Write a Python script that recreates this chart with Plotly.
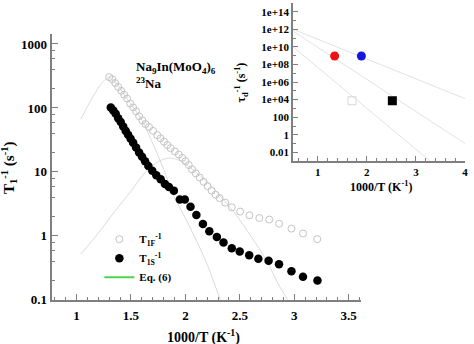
import plotly.graph_objects as go

# ---- Main panel: 23Na spin-lattice relaxation rates vs 1000/T ----
# T1F^-1 (fast component, open circles)
x_fast = [1.300, 1.328, 1.356, 1.383, 1.411, 1.438, 1.465, 1.493, 1.520, 1.547,
          1.575, 1.605, 1.634, 1.666, 1.703, 1.742, 1.771, 1.803, 1.835, 1.864,
          1.903, 1.940, 1.972, 2.001, 2.031, 2.061, 2.095, 2.131, 2.168, 2.204,
          2.241, 2.277, 2.314, 2.366, 2.426, 2.503, 2.588, 2.679, 2.770, 2.861,
          2.974, 3.080, 3.211]
y_fast = [303, 282, 245, 213, 185, 161, 140, 117, 102, 88.5,
          74.2, 63.8, 56, 50.4, 43.8, 37.6, 33.6, 29.7, 26.3, 23.5,
          20.9, 18.6, 16.6, 14.7, 12.8, 11.0, 9.5, 8.2, 7.0, 6.0,
          5.1, 4.4, 3.9, 3.3, 2.8, 2.4, 2.1, 1.9, 1.8, 1.55,
          1.3, 1.09, 0.89]

# T1S^-1 (slow component, filled circles)
x_slow = [1.315, 1.338, 1.360, 1.383, 1.406, 1.429, 1.452, 1.474, 1.497, 1.520,
          1.547, 1.575, 1.602, 1.630, 1.660, 1.696, 1.733, 1.773, 1.812, 1.849,
          1.894, 1.949, 1.995, 2.047, 2.101, 2.161, 2.220, 2.289, 2.350, 2.426,
          2.499, 2.586, 2.670, 2.764, 2.860, 2.974, 3.080, 3.213]
y_slow = [102, 91.6, 81, 69.2, 60.1, 51.3, 43.8, 38.0, 33.0, 28.7,
          24.1, 20.2, 17.3, 14.7, 12.4, 10.4, 8.9, 7.7, 6.5, 5.8,
          5.1, 3.7, 3.7, 2.85, 2.13, 1.53, 1.18, 0.96, 0.79, 0.64,
          0.57, 0.50, 0.44, 0.41, 0.36, 0.28, 0.23, 0.20]

# Eq. (6) curves, sampled
x_eqA = [1.04, 1.10, 1.16, 1.22, 1.27, 1.30, 1.34, 1.40, 1.45, 1.50, 1.60,
         1.70, 1.80, 1.90, 2.00, 2.10, 2.20, 2.32]
y_eqA = [67, 105, 160, 230, 285, 300, 275, 205, 150, 115, 65,
         28, 11, 4.0, 1.9, 0.85, 0.36, 0.10]
x_eqB = [1.04, 1.20, 1.35, 1.50, 1.64, 1.75, 1.85, 1.95, 2.05, 2.15, 2.30,
         2.45, 2.60, 2.75, 2.85, 2.94]
y_eqB = [0.52, 1.1, 2.4, 5.0, 10.3, 14.5, 16.5, 15.0, 11.5, 8.3, 4.6,
         2.3, 1.0, 0.40, 0.18, 0.10]

# ---- Inset: correlation rates tau_d^-1 ----
x_red, y_red = [1.345], [9.3e8]
x_blue, y_blue = [1.89], [9.3e8]
x_sq_black, y_sq_black = [2.52], [7.5e3]
x_sq_open, y_sq_open = [1.70], [7.5e3]
x_line1, y_line1 = [0.5, 4.0], [1.0e12, 1.3e4]
x_line2, y_line2 = [0.5, 4.0], [6.0e11, 0.1]
x_line3, y_line3 = [0.5, 3.29], [1.0e10, 1.0e-3]

main_ticks = [1, 1.5, 2, 2.5, 3, 3.5]
main_ticktext = ["1", "1.5", "2", "2.5", "3", "3.5"]
main_yticks = [0.1, 1, 10, 100, 1000]
main_yticktext = ["0.1", "1", "10", "100", "1000"]
inset_xticks = [1, 2, 3, 4]
inset_yticks = [1e-2, 1, 1e2, 1e4, 1e6, 1e8, 1e10, 1e12, 1e14]
inset_yticktext = ["0.01", "1", "100", "1e+04", "1e+06", "1e+08", "1e+10", "1e+12", "1e+14"]

SERIF = "Liberation Serif"
AXC = "#7f7f7f"
CURVE = "#dadada"
OPEN = "#c4c4c4"

fig = go.Figure()

for xs, ys in [(x_eqA, y_eqA), (x_eqB, y_eqB)]:
    fig.add_trace(go.Scatter(x=xs, y=ys, mode="lines", showlegend=False,
                             line=dict(color=CURVE, width=1, shape="spline", smoothing=0.8),
                             hoverinfo="skip"))

fig.add_trace(go.Scatter(x=x_fast, y=y_fast, mode="markers",
                         name="T<sub>1F</sub><sup>-1</sup>",
                         marker=dict(symbol="circle-open", size=7, color=OPEN,
                                     line=dict(width=1, color=OPEN))))
fig.add_trace(go.Scatter(x=x_slow, y=y_slow, mode="markers",
                         name="T<sub>1S</sub><sup>-1</sup>",
                         marker=dict(symbol="circle", size=8.5, color="black")))
fig.add_trace(go.Scatter(x=[None], y=[None], mode="lines", name="Eq. (6)",
                         line=dict(color="#4cd64c", width=2)))

# inset traces
for xs, ys in [(x_line1, y_line1), (x_line2, y_line2), (x_line3, y_line3)]:
    fig.add_trace(go.Scatter(x=xs, y=ys, mode="lines", xaxis="x2", yaxis="y2",
                             showlegend=False, line=dict(color="#e2e2e2", width=1)))
fig.add_trace(go.Scatter(x=x_red, y=y_red, mode="markers", xaxis="x2", yaxis="y2",
                         showlegend=False, marker=dict(size=9, color="#ee1111")))
fig.add_trace(go.Scatter(x=x_blue, y=y_blue, mode="markers", xaxis="x2", yaxis="y2",
                         showlegend=False, marker=dict(size=9, color="#1515e0")))
fig.add_trace(go.Scatter(x=x_sq_black, y=y_sq_black, mode="markers", xaxis="x2", yaxis="y2",
                         showlegend=False, marker=dict(symbol="square", size=9, color="black")))
fig.add_trace(go.Scatter(x=x_sq_open, y=y_sq_open, mode="markers", xaxis="x2", yaxis="y2",
                         showlegend=False,
                         marker=dict(symbol="square-open", size=8, color="#d8d8d8",
                                     line=dict(width=1, color="#d8d8d8"))))

W, H = 474, 344
tickfont = dict(family=SERIF, size=13, color="black", weight="bold")
small_tickfont = dict(family=SERIF, size=11, color="black", weight="bold")

axis_common = dict(showline=True, linecolor=AXC, linewidth=2, ticks="inside",
                   tickcolor=AXC, tickwidth=1, showgrid=False, zeroline=False)

fig.update_layout(
    width=W, height=H,
    margin=dict(l=0, r=0, t=0, b=0),
    paper_bgcolor="white", plot_bgcolor="white",
    xaxis=dict(domain=[52 / W, 363 / W], range=[0.772, 3.61], anchor="y",
               tickvals=main_ticks, ticktext=main_ticktext, ticklen=6,
               tickfont=tickfont, ticklabelstandoff=3,
               minor=dict(ticks="inside", ticklen=3, tickcolor=AXC, dtick=0.1, tick0=0),
               **axis_common),
    yaxis=dict(domain=[(H - 307) / H, (H - 35) / H], type="log", range=[-1, 3.153],
               anchor="x", tickvals=main_yticks, ticktext=main_yticktext, ticklen=6,
               tickfont=tickfont,
               minor=dict(ticks="inside", ticklen=3, tickcolor=AXC,
                          tickvals=[m * 10 ** e for e in range(-1, 3) for m in (2, 4, 6, 8)]),
               **axis_common),
    xaxis2=dict(domain=[295 / W, 468 / W], range=[0.5, 4.0], anchor="y2",
                tickvals=inset_xticks, ticklen=5, tickfont=small_tickfont,
                minor=dict(ticks="inside", ticklen=3, tickcolor=AXC, dtick=0.2, tick0=0),
                **axis_common),
    yaxis2=dict(domain=[(H - 165) / H, (H - 3) / H], type="log", range=[-3, 15],
                anchor="x2", tickvals=inset_yticks, ticktext=inset_yticktext, ticklen=5,
                tickfont=small_tickfont,
                minor=dict(ticks="inside", ticklen=3, tickcolor=AXC,
                           tickvals=[10.0 ** e for e in range(-1, 16, 2)]),
                **axis_common),
    showlegend=True,
    legend=dict(x=100 / W, y=(H - 230) / H, xanchor="left", yanchor="top",
                bgcolor="rgba(0,0,0,0)", tracegroupgap=0, itemwidth=30,
                font=dict(family=SERIF, size=11, color="black", weight="bold")),
)

ann = [
    dict(text="Na<sub>9</sub>In(MoO<sub>4</sub>)<sub>6</sub>", x=136, y=69, xanchor="left",
         yanchor="middle", font=dict(family=SERIF, size=13, color="black", weight="bold")),
    dict(text="<sup>23</sup>Na", x=136, y=85, xanchor="left", yanchor="middle",
         font=dict(family=SERIF, size=13, color="black", weight="bold")),
    dict(text="T<sub>1</sub><sup>-1</sup> (s<sup>-1</sup>)", x=9, y=172, textangle=-90,
         yanchor="middle", font=dict(family=SERIF, size=15, color="black", weight="bold")),
    dict(text="1000/T (K<sup>-1</sup>)", x=205, y=336, yanchor="middle", yshift=-8,
         font=dict(family=SERIF, size=14, color="black", weight="bold")),
    dict(text="1000/T (K<sup>-1</sup>)", x=383, y=191, yanchor="middle",
         font=dict(family=SERIF, size=12, color="black", weight="bold")),
    dict(text="τ<sub>d</sub><sup>-1</sup> (s<sup>-1</sup>)", x=243, y=84, textangle=-90,
         yanchor="middle", font=dict(family=SERIF, size=12, color="black", weight="bold")),
]
for a in ann:
    a["x"] = a["x"] / W
    a["y"] = (H - a["y"]) / H
    a.setdefault("xanchor", "center")
    a["xref"] = "paper"
    a["yref"] = "paper"
    a["showarrow"] = False
    a["borderpad"] = 0
fig.update_layout(annotations=ann)

fig.write_html("out.html")
